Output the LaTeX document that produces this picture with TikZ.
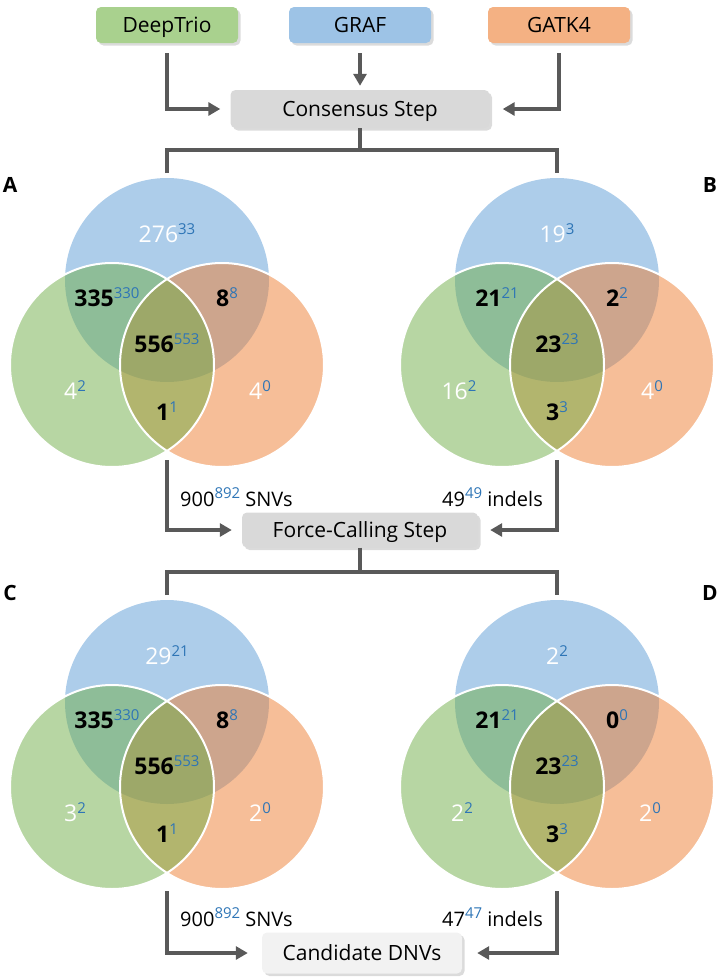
\documentclass[tikz,border=0pt]{standalone}
\usepackage{fontspec}
\setmainfont{Open Sans}
\usetikzlibrary{arrows.meta,positioning,shadows}

\definecolor{toolgreen}{RGB}{169,209,142}
\definecolor{toolblue}{RGB}{157,195,230}
\definecolor{toolorange}{RGB}{244,177,131}
\definecolor{setgreen}{RGB}{112,173,71}
\definecolor{setblue}{RGB}{91,155,213}
\definecolor{setorange}{RGB}{237,125,49}
\definecolor{boxgray}{RGB}{217,217,217}
\definecolor{boxlight}{RGB}{242,242,242}
\definecolor{linegray}{RGB}{89,89,89}
\definecolor{supblue}{RGB}{46,117,182}

\newcommand\supnum[1]{\raisebox{7.5pt}{\fontsize{15}{15}\selectfont\mdseries\color{supblue}#1}}

\begin{document}
\begin{tikzpicture}[x=1pt,y=-1pt,
    every node/.style={inner sep=0pt},
    tool/.style={rounded corners=5pt,minimum width=142pt,minimum height=36pt,
        text depth=0pt,font=\fontsize{21}{25}\selectfont,
        drop shadow={shadow xshift=2.5pt,shadow yshift=-2.5pt,opacity=.2,fill=black!70}},
    stepbox/.style={tool,fill=boxgray},
    link/.style={draw=linegray,line width=4pt},
    arrow/.style={link,-{Triangle[length=12pt,width=13pt]}},
    blueset/.style={fill=setblue,fill opacity=.5},
    greenset/.style={fill=setgreen,fill opacity=.5},
    orangeset/.style={fill=setorange,fill opacity=.5},
    rim/.style={draw=white,line width=2pt},
    single/.style={text=white,font=\fontsize{23}{27}\selectfont},
    shared/.style={text=black,font=\fontsize{23}{27}\selectfont\bfseries},
    total/.style={font=\fontsize{20}{24}\selectfont},
    panel/.style={font=\fontsize{21}{25}\selectfont\bfseries}
]
\useasboundingbox (0,0) rectangle (721,977);

% callers and consensus
\node[tool,fill=toolgreen] (deeptrio) at (167,25) {DeepTrio};
\node[tool,fill=toolblue] (graf) at (360,25) {GRAF};
\node[tool,fill=toolorange] (gatk) at (559,25) {GATK4};
\node[stepbox,minimum width=259pt,minimum height=38pt] (consensus) at (360,109) {Consensus Step};
\draw[arrow] ([yshift=-10pt]deeptrio.south) |- ([xshift=-10pt]consensus.west);
\draw[arrow] ([yshift=-10pt]graf.south) -- ([yshift=4pt]consensus.north);
\draw[arrow] ([yshift=-10pt]gatk.south) |- ([xshift=13pt]consensus.east);
\draw[link] (consensus.south) -- ++(0,22) coordinate (split1);
\coordinate (topA) at (167,173);
\coordinate (topB) at (557,173);
\draw[link] (topA) |- (split1) -| (topB);

% venn diagrams
\foreach \p/\cx/\cy in {A/167/280,B/557/280,C/167/702,D/557/702}{
  \coordinate (venn\p) at (\cx,\cy);
  \fill[blueset] (venn\p) circle (102);
  \fill[orangeset] ([shift={(55,85)}]venn\p) circle (102);
  \fill[greenset] ([shift={(-55,85)}]venn\p) circle (102);
  \draw[rim] ([shift={(55,85)}]venn\p) circle (102) ([shift={(-55,85)}]venn\p) circle (102);
}
\node[panel] (lblA) at (10,185) {A};
\node[panel] (lblB) at (710,185) {B};
\node[panel] (lblC) at (10,593) {C};
\node[panel] (lblD) at (710,593) {D};

\begin{scope}[shift={(vennA)}]
  \node[single] (A-t) at (0,-47) {276\supnum{33}};
  \node[shared] (A-bg) at (-60,17) {335\supnum{330}};
  \node[shared] (A-bo) at (60,17) {8\supnum{8}};
  \node[shared] (A-all) at (0,63) {556\supnum{553}};
  \node[single] (A-g) at (-92,110) {4\supnum{2}};
  \node[shared] (A-go) at (0,131) {1\supnum{1}};
  \node[single] (A-o) at (93,110) {4\supnum{0}};
\end{scope}
\begin{scope}[shift={(vennB)}]
  \node[single] (B-t) at (0,-47) {19\supnum{3}};
  \node[shared] (B-bg) at (-60,17) {21\supnum{21}};
  \node[shared] (B-bo) at (60,17) {2\supnum{2}};
  \node[shared] (B-all) at (0,63) {23\supnum{23}};
  \node[single] (B-g) at (-98,110) {16\supnum{2}};
  \node[shared] (B-go) at (0,131) {3\supnum{3}};
  \node[single] (B-o) at (95,110) {4\supnum{0}};
\end{scope}
\begin{scope}[shift={(vennC)}]
  \node[single] (C-t) at (0,-47) {29\supnum{21}};
  \node[shared] (C-bg) at (-60,17) {335\supnum{330}};
  \node[shared] (C-bo) at (60,17) {8\supnum{8}};
  \node[shared] (C-all) at (0,63) {556\supnum{553}};
  \node[single] (C-g) at (-92,110) {3\supnum{2}};
  \node[shared] (C-go) at (0,131) {1\supnum{1}};
  \node[single] (C-o) at (93,110) {2\supnum{0}};
\end{scope}
\begin{scope}[shift={(vennD)}]
  \node[single] (D-t) at (0,-47) {2\supnum{2}};
  \node[shared] (D-bg) at (-60,17) {21\supnum{21}};
  \node[shared] (D-bo) at (60,17) {0\supnum{0}};
  \node[shared] (D-all) at (0,63) {23\supnum{23}};
  \node[single] (D-g) at (-95,110) {2\supnum{2}};
  \node[shared] (D-go) at (0,131) {3\supnum{3}};
  \node[single] (D-o) at (93,110) {2\supnum{0}};
\end{scope}

% force calling
\coordinate (botA) at (167,460);
\coordinate (botB) at (557,460);
\node[stepbox,minimum width=236pt,minimum height=35pt] (force) at (360,530) {Force-Calling Step};
\draw[arrow] (botA) |- ([xshift=-10pt]force.west);
\draw[arrow] (botB) |- ([xshift=12pt]force.east);
\node[total,anchor=west] (snvA) at (180,497) {900\supnum{892} SNVs};
\node[total,anchor=east] (indelB) at (543,497) {49\supnum{49} indels};
\draw[link] (force.south) -- ++(0,24) coordinate (split2);
\coordinate (topC) at (167,595);
\coordinate (topD) at (557,595);
\draw[link] (topC) |- (split2) -| (topD);

% candidates
\coordinate (botC) at (167,891);
\coordinate (botD) at (557,891);
\node[stepbox,fill=boxlight,minimum width=200pt,minimum height=41pt] (dnv) at (362,953) {Candidate DNVs};
\draw[arrow] (botC) |- ([xshift=-14pt]dnv.west);
\draw[arrow] (botD) |- ([xshift=15pt]dnv.east);
\node[total,anchor=west] (snvC) at (180,917) {900\supnum{892} SNVs};
\node[total,anchor=east] (indelD) at (543,917) {47\supnum{47} indels};
\end{tikzpicture}
\end{document}
